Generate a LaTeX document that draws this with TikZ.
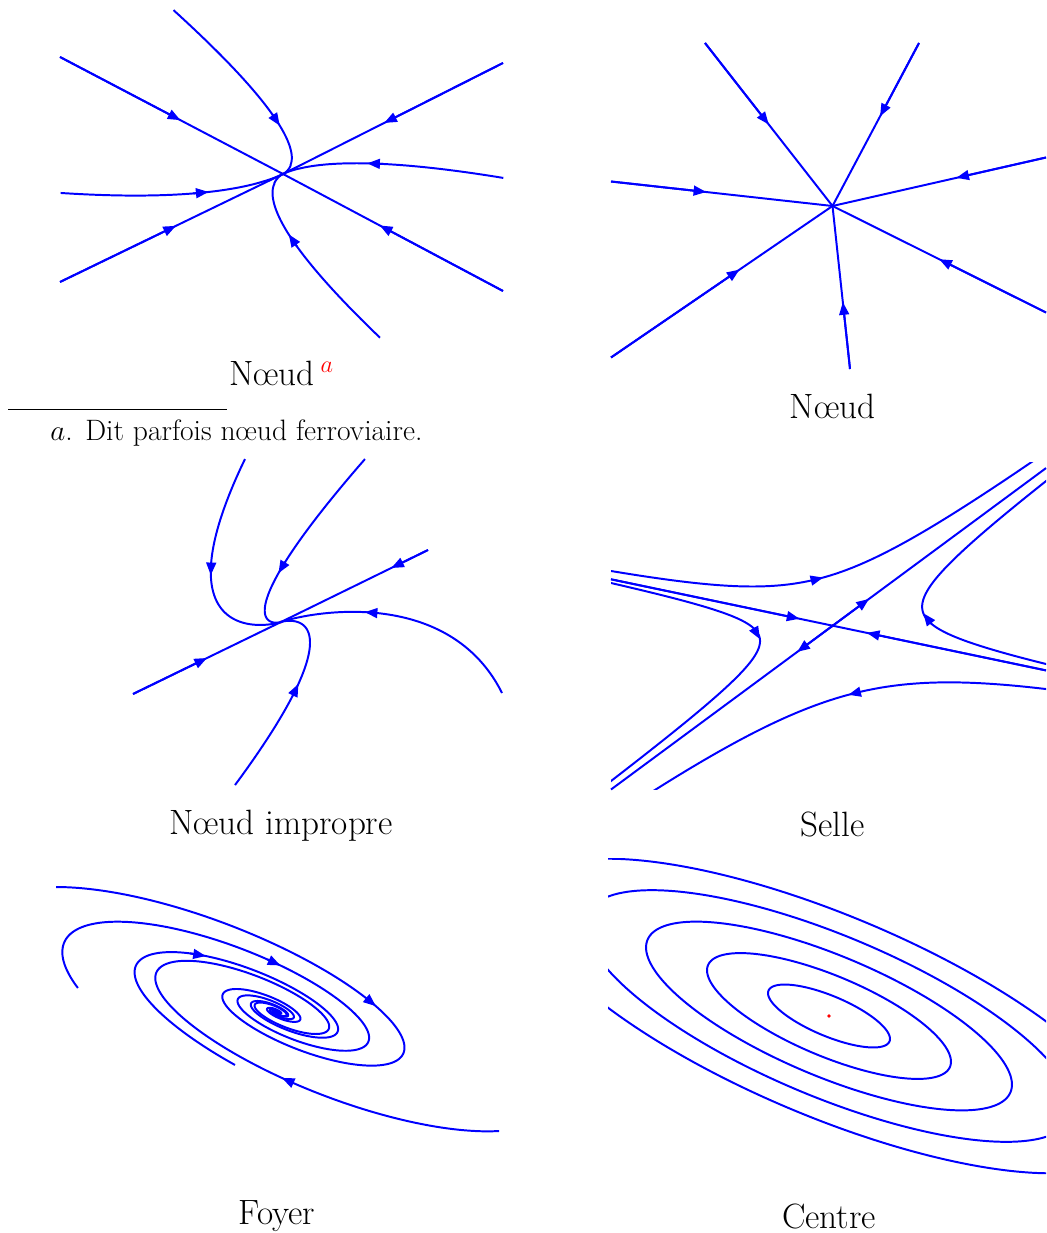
\documentclass[tikz,border=0pt]{standalone}
\usepackage{tikz}
\usetikzlibrary{arrows.meta,calc}

\begin{document}
\begin{tikzpicture}[x=0.025cm,y=-0.025cm,>={Triangle[length=9pt,width=7pt]},
  traj/.style={blue,line width=1.4pt},
  arr/.style={traj,->},
  eq/.style={red},
  lbl/.style={font=\fontsize{25}{30}\selectfont,inner sep=0pt,anchor=base},
  fnt/.style={font=\fontsize{21}{25}\selectfont,inner sep=0pt,anchor=base west},
  declare function={
    nx(\p,\q,\w)=283+0.893*\p*\w+0.884*\q*\w^1.8;
    ny(\p,\q,\w)=174-0.450*\p*\w+0.467*\q*\w^1.8;
    ix(\p,\q,\w)=281+0.898*(\p+0.926*\q*\w)*exp(-\w);
    iy(\p,\q,\w)=622-0.44*(\p+0.926*\q*\w)*exp(-\w)+\q*exp(-\w);
    sx(\p,\q,\w)=832.7+0.979*\p*exp(-0.8*\w)+0.804*\q*exp(\w);
    sy(\p,\q,\w)=625.7+0.205*\p*exp(-0.8*\w)-0.594*\q*exp(\w);
    fx(\p,\q,\w)=277+\p*exp(-0.0047*\w)*(0.9219*cos(\q+\w)-0.1189*sin(\q+\w));
    fy(\p,\q,\w)=1012+\p*exp(-0.0047*\w)*(0.3875*cos(\q+\w)+0.2828*sin(\q+\w));
    cx(\p,\w)=829+\p*(60.48*cos(\w)-7.79*sin(\w));
    cy(\p,\w)=1016+\p*(25.42*cos(\w)+18.53*sin(\w));
  }]

\useasboundingbox (0,0) rectangle (1046,1233);

% ---- Noeud (valeurs propres distinctes) ----
\coordinate (O1) at (283,174);
\coordinate (A1) at (60,57);
\coordinate (A2) at (503,291);
\coordinate (A3) at (60,282);
\coordinate (A4) at (503,63);
\fill[eq] (O1) circle (1.6);
\foreach \e/\f in {A1/0.54, A2/0.56, A3/0.52, A4/0.54}{
  \draw[traj] (\e) -- (O1);
  \draw[arr] (\e) -- ($(\e)!\f!(O1)$);
}
\foreach \ca/\cb/\s in {115/-240/0.44, -122/233/0.51, -148/-102/0.42, 122/126/0.49}{
  \draw[traj] plot[domain=1:0.002,samples=160,variable=\t] ({nx(\ca,\cb,\t)},{ny(\ca,\cb,\t)});
  \draw[arr] ({nx(\ca,\cb,\s+0.07)},{ny(\ca,\cb,\s+0.07)}) -- ({nx(\ca,\cb,\s)},{ny(\ca,\cb,\s)});
}
\node[lbl] (t1) at (281.5,385) {Nœud\,$^{\textcolor{red}{a}}$};

% note de bas de page
\coordinate (R1) at (8,409);
\coordinate (R2) at (227,409);
\draw[line width=0.5pt] (R1) -- (R2);
\node[fnt] (fm) at (50,440) {$a$.};
\node[fnt] (fn) at (85,440) {Dit parfois nœud ferroviaire.};

% ---- Noeud (etoile) ----
\coordinate (O2) at (832.5,206);
\coordinate (B1) at (705,43);
\coordinate (B2) at (919,43);
\coordinate (B3) at (1046,157.5);
\coordinate (B4) at (1046,312.5);
\coordinate (B5) at (850,369);
\coordinate (B6) at (611,357.5);
\coordinate (B7) at (611,181.5);
\fill[eq] (O2) circle (1.6);
\foreach \e/\f in {B1/0.50, B2/0.45, B3/0.42, B4/0.50, B5/0.41, B6/0.58, B7/0.43}{
  \draw[traj] (\e) -- (O2);
  \draw[arr] (\e) -- ($(\e)!\f!(O2)$);
}
\node[lbl] (t2) at (832.5,418) {Nœud};

% ---- Noeud impropre ----
\coordinate (O3) at (281,622);
\coordinate (C1) at (133,694);
\coordinate (C2) at (428,550);
\fill[eq] (O3) circle (1.6);
\foreach \e/\f in {C1/0.50, C2/0.25}{
  \draw[traj] (\e) -- (O3);
  \draw[arr] (\e) -- ($(\e)!\f!(O3)$);
}
\foreach \ca/\cb/\s/\d in {-40.1/-180.6/0.80/0.15, 93.5/-121.8/0.89/0.15, 246.1/179.3/1.75/0.2, -51.2/140.5/0.69/0.12}{
  \draw[traj] plot[domain=0:9,samples=220,variable=\t] ({ix(\ca,\cb,\t)},{iy(\ca,\cb,\t)});
  \draw[arr] ({ix(\ca,\cb,\s-\d)},{iy(\ca,\cb,\s-\d)}) -- ({ix(\ca,\cb,\s)},{iy(\ca,\cb,\s)});
}
\node[lbl] (t3) at (281,834) {Nœud impropre};

% ---- Selle ----
\coordinate (O4) at (832.7,625.7);
\coordinate (D1) at (611,579.3);
\coordinate (D2) at (1046,670.4);
\coordinate (D3) at (611,789.5);
\coordinate (D4) at (1046,468.1);
\fill[eq] (O4) circle (1.6);
\foreach \e/\f in {D1/0.85, D2/0.84}{
  \draw[traj] (\e) -- (O4);
  \draw[arr] (\e) -- ($(\e)!\f!(O4)$);
}
\foreach \e/\f in {D3/0.16, D4/0.17}{
  \draw[traj] (O4) -- (\e);
  \draw[arr] (O4) -- ($(O4)!\f!(\e)$);
}
\begin{scope}
  \clip (611,462) rectangle (1046,789.5);
  \foreach \ca/\cb/\te/\s/\d in {-235.4/10.85/3.4/1.72/0.12, -222.4/-4.89/4.1/2.04/0.4, 211/8.33/3.5/1.6/0.33, 238/-24.5/2.5/1.26/0.085}{
    \draw[traj] plot[domain=-0.1:\te,samples=200,variable=\t] ({sx(\ca,\cb,\t)},{sy(\ca,\cb,\t)});
    \draw[arr] ({sx(\ca,\cb,\s-\d)},{sy(\ca,\cb,\s-\d)}) -- ({sx(\ca,\cb,\s)},{sy(\ca,\cb,\s)});
  }
\end{scope}
\node[lbl] (t4) at (832.5,836) {Selle};

% ---- Foyer ----
\coordinate (O5) at (277,1012);
\fill[eq] (O5) circle (1.6);
\foreach \rz/\az in {269.9/200.95, 263.3/137.1, 262.4/17.1, 213/94.9}{
  \draw[traj] plot[domain=0:1440,samples=800,smooth,variable=\t] ({fx(\rz,\az,\t)},{fy(\rz,\az,\t)});
}
\foreach \rz/\az/\s/\d in {269.9/200.95/101/5, 263.3/137.1/127/5.5, 262.4/17.1/64/3.5, 213/94.9/127/9}{
  \draw[arr] ({fx(\rz,\az,\s-\d)},{fy(\rz,\az,\s-\d)}) -- ({fx(\rz,\az,\s)},{fy(\rz,\az,\s)});
}
\node[lbl] (t5) at (277,1224) {Foyer};

% ---- Centre ----
\coordinate (O6) at (829,1016);
\begin{scope}
  \clip (608,858) rectangle (1046,1174);
  \foreach \k in {1,...,5}
    \draw[traj] plot[domain=0:360,samples=361,variable=\t] ({cx(\k,\t)},{cy(\k,\t)});
\end{scope}
\fill[eq] (O6) circle (1.8);
\node[lbl] (t6) at (829,1228) {Centre};

\end{tikzpicture}
\end{document}
